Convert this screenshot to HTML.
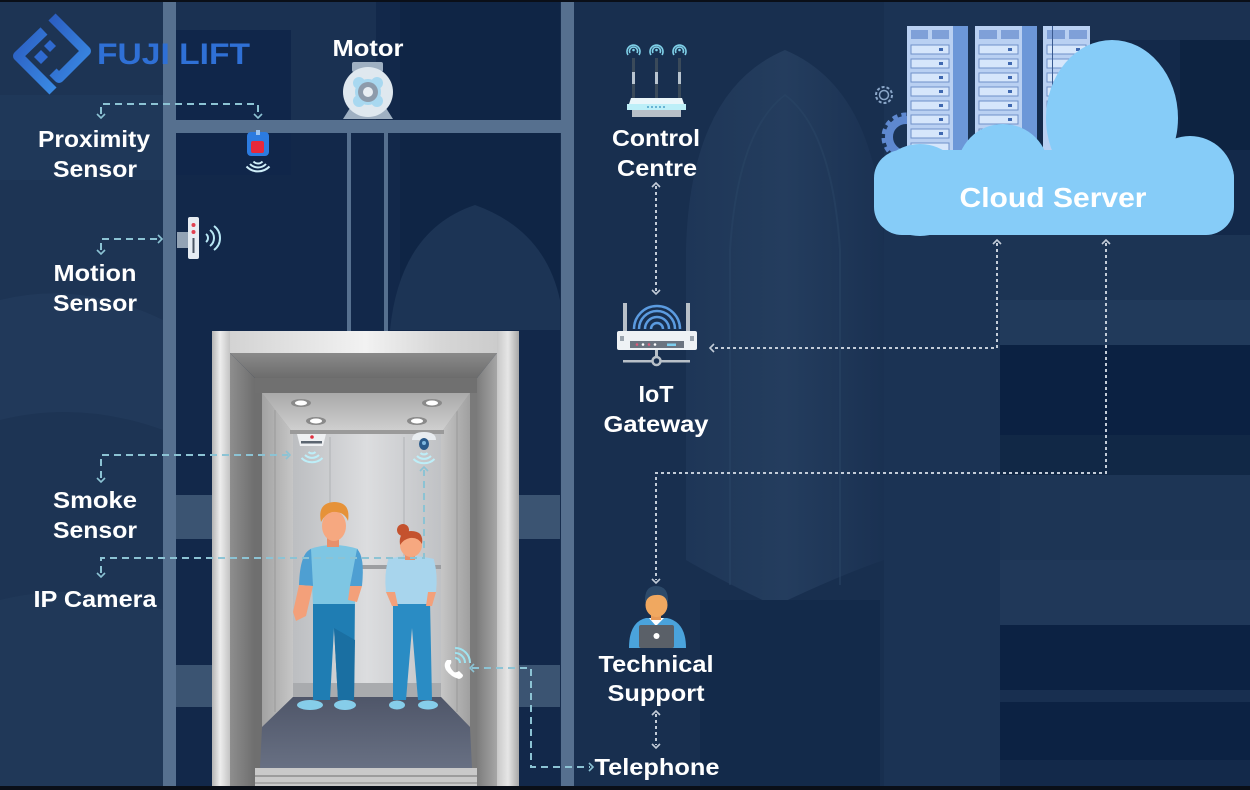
<!DOCTYPE html>
<html><head><meta charset="utf-8">
<style>
html,body{margin:0;padding:0;background:#172d4d;overflow:hidden}
svg{display:block}
.lb{font-family:"Liberation Sans",Arial,sans-serif;font-weight:700;fill:#ffffff;font-size:23px}
</style></head><body>
<svg width="1250" height="790" viewBox="0 0 1250 790" xmlns="http://www.w3.org/2000/svg">
<defs>
  <linearGradient id="gPostL" x1="0" x2="1" y1="0" y2="0">
    <stop offset="0" stop-color="#b4b4b4"/><stop offset="0.45" stop-color="#ededed"/><stop offset="1" stop-color="#c4c4c4"/>
  </linearGradient>
  <linearGradient id="gPostR" x1="0" x2="1" y1="0" y2="0">
    <stop offset="0" stop-color="#c8c8c8"/><stop offset="0.5" stop-color="#e6e6e6"/><stop offset="1" stop-color="#a8a8a8"/>
  </linearGradient>
  <linearGradient id="gTop" x1="0" x2="1" y1="0" y2="0">
    <stop offset="0" stop-color="#cfcfcf"/><stop offset="0.5" stop-color="#f2f2f2"/><stop offset="0.75" stop-color="#d6d6d6"/><stop offset="1" stop-color="#c8c8c8"/>
  </linearGradient>
  <linearGradient id="gBevL" x1="0" x2="1" y1="0" y2="0">
    <stop offset="0" stop-color="#8e8e8e"/><stop offset="1" stop-color="#6e6e6e"/>
  </linearGradient>
  <linearGradient id="gBevR" x1="0" x2="1" y1="0" y2="0">
    <stop offset="0" stop-color="#7c7c7c"/><stop offset="1" stop-color="#a6a6a6"/>
  </linearGradient>
  <linearGradient id="gBevT" x1="0" x2="0" y1="0" y2="1">
    <stop offset="0" stop-color="#8a8a8a"/><stop offset="1" stop-color="#6c6c6c"/>
  </linearGradient>
  <linearGradient id="gCeil" x1="0" x2="0" y1="0" y2="1">
    <stop offset="0" stop-color="#a9a9a9"/><stop offset="1" stop-color="#d2d2d2"/>
  </linearGradient>
  <linearGradient id="gBack" x1="0" x2="1" y1="0" y2="0">
    <stop offset="0" stop-color="#bcbec1"/><stop offset="0.5" stop-color="#dcdddf"/><stop offset="1" stop-color="#c0c2c5"/>
  </linearGradient>
  <linearGradient id="gWallL" x1="0" x2="1" y1="0" y2="0">
    <stop offset="0" stop-color="#a2a2a2"/><stop offset="1" stop-color="#c6c6c6"/>
  </linearGradient>
  <linearGradient id="gWallR" x1="0" x2="1" y1="0" y2="0">
    <stop offset="0" stop-color="#c6c6c6"/><stop offset="1" stop-color="#a0a0a0"/>
  </linearGradient>
  <linearGradient id="gFloor" x1="0" x2="0" y1="0" y2="1">
    <stop offset="0" stop-color="#4f5669"/><stop offset="1" stop-color="#687083"/>
  </linearGradient>
  <linearGradient id="gLogo" x1="0" x2="1" y1="0" y2="1">
    <stop offset="0" stop-color="#2b5ec2"/><stop offset="1" stop-color="#3a8ae4"/>
  </linearGradient>
  <linearGradient id="gDome" x1="0" x2="1" y1="0" y2="0">
    <stop offset="0" stop-color="#1e3657"/><stop offset="0.5" stop-color="#243d5e"/><stop offset="1" stop-color="#1a3152"/>
  </linearGradient>
</defs>

<!-- ============ BACKGROUND ============ -->
<rect x="0" y="0" width="1250" height="790" fill="#172d4d"/>
<rect x="0" y="0" width="163" height="790" fill="#1d3454"/>
<rect x="0" y="95" width="163" height="85" fill="#21395a" opacity="0.8"/>
<path d="M0 300 Q80 280 163 320 L163 430 Q80 400 0 420 Z" fill="#243c5c" opacity="0.7"/>
<path d="M0 600 Q80 580 163 610 L163 790 L0 790 Z" fill="#223a5a" opacity="0.7"/>
<rect x="176" y="0" width="384" height="790" fill="#12284a"/>
<rect x="176" y="0" width="200" height="120" fill="#1a3152"/>
<rect x="176" y="30" width="115" height="145" fill="#10264a"/>
<rect x="400" y="0" width="160" height="330" fill="#0f2545"/>
<path d="M390 330 Q400 230 475 205 Q545 230 560 300 L560 330 Z" fill="#1c3455"/>
<rect x="176" y="495" width="384" height="44" fill="#3b5472"/>
<rect x="176" y="665" width="384" height="42" fill="#3b5472"/>
<rect x="574" y="0" width="310" height="790" fill="#182f4f"/>
<path d="M686 560 L686 250 Q690 90 785 50 Q880 90 884 250 L884 560 Q840 575 775 606 Q720 580 686 560 Z" fill="url(#gDome)"/>
<path d="M730 585 L730 250 Q738 130 785 95 Q832 130 840 250 L840 585" fill="none" stroke="#2a4565" stroke-width="2" opacity="0.5"/>
<rect x="700" y="600" width="180" height="190" fill="#132a4a"/>
<rect x="884" y="0" width="116" height="790" fill="#1b3354"/>
<rect x="1000" y="0" width="250" height="790" fill="#13294a"/>
<rect x="1000" y="0" width="250" height="40" fill="#1b3151"/>
<rect x="1180" y="40" width="70" height="110" fill="#0d2341"/>
<rect x="1000" y="235" width="250" height="110" fill="#1c3454"/>
<rect x="1000" y="300" width="250" height="45" fill="#213a5b"/>
<rect x="1000" y="345" width="250" height="90" fill="#0b2142"/>
<rect x="1000" y="435" width="250" height="40" fill="#112846"/>
<rect x="1000" y="475" width="250" height="150" fill="#1d3555"/>
<rect x="1000" y="560" width="250" height="65" fill="#203859"/>
<rect x="1000" y="625" width="250" height="165" fill="#0c2243"/>
<rect x="1000" y="690" width="250" height="12" fill="#182f50"/>
<rect x="1000" y="760" width="250" height="30" fill="#13294a"/>

<!-- ============ SHAFT RAILS ============ -->
<rect x="163" y="0" width="13" height="790" fill="#56708f"/>
<rect x="561" y="0" width="13" height="790" fill="#56708f"/>
<rect x="176" y="120" width="385" height="13" fill="#56708f"/>
<rect x="347" y="133" width="4" height="200" fill="#56708f"/>
<rect x="384" y="133" width="4" height="200" fill="#56708f"/>

<!-- ============ LOGO ============ -->
<g fill="none" stroke="url(#gLogo)" stroke-width="10" stroke-linejoin="round">
  <polyline points="52,17 86,51 59,78 53,72"/>
  <polyline points="44,31 18,56 53,91"/>
</g>
<polygon points="41,50 48,57 41,64 34,57" fill="#2f6ad0"/>
<polygon points="50,40 56,46 50,52 44,46" fill="#2f6ad0"/>
<text x="97" y="64" font-family="Liberation Sans, Arial, sans-serif" font-weight="700" font-size="30" fill="#2f70d6" textLength="153" lengthAdjust="spacingAndGlyphs">FUJI LIFT</text>

<!-- ============ MOTOR ============ -->
<rect x="352" y="62" width="31" height="10" rx="2" fill="#9fb0c2"/>
<path d="M343 119 L350 108 L386 108 L393 119 Z" fill="#9fb0c2"/>
<circle cx="368" cy="92" r="25" fill="#dfe8ef"/>
<g fill="#a8d8f0">
  <circle cx="359" cy="83" r="6"/><circle cx="377" cy="83" r="6"/>
  <circle cx="359" cy="101" r="6"/><circle cx="377" cy="101" r="6"/>
  <circle cx="368" cy="92" r="13"/>
</g>
<circle cx="368" cy="92" r="10" fill="#8d9bab"/>
<circle cx="368" cy="92" r="5" fill="#e8eef3"/>

<!-- ============ PROXIMITY SENSOR ============ -->
<rect x="247" y="132" width="22" height="24" rx="4" fill="#2c7be0"/>
<rect x="256" y="130" width="4" height="5" fill="#9cc4f0"/>
<rect x="251" y="141" width="13" height="12" rx="2" fill="#e8283a"/>
<g fill="none" stroke="#cfeef8" stroke-width="2">
  <path d="M253.5 161.5 A6 6 0 0 0 262.5 161.5"/>
  <path d="M250 164 A11 11 0 0 0 266 164"/>
  <path d="M246.5 166.5 A16 16 0 0 0 269.5 166.5"/>
</g>

<!-- ============ MOTION SENSOR ============ -->
<path d="M177 232 L188 232 L188 248 L177 248 Z" fill="#93a3b5"/>
<rect x="188" y="217" width="11" height="42" rx="2" fill="#e6ecf2"/>
<circle cx="193.5" cy="225" r="2" fill="#e04050"/>
<circle cx="193.5" cy="232" r="2" fill="#e04050"/>
<rect x="192.5" y="238" width="2" height="15" fill="#4a5563"/>
<g fill="none" stroke="#b8e8f5" stroke-width="2">
  <path d="M206 234 A5 5 0 0 1 206 242"/>
  <path d="M210 230 A10 10 0 0 1 210 246"/>
  <path d="M214 226 A15 15 0 0 1 214 250"/>
</g>

<!-- ============ ELEVATOR ============ -->
<rect x="255" y="378" width="222" height="412" fill="#8f8f8f"/>
<rect x="212" y="331" width="307" height="22" fill="url(#gTop)"/>
<rect x="212" y="331" width="18" height="459" fill="url(#gPostL)"/>
<rect x="497" y="331" width="22" height="459" fill="url(#gPostR)"/>
<polygon points="230,353 497,353 477,378 255,378" fill="url(#gBevT)"/>
<polygon points="230,353 255,378 255,790 230,790" fill="url(#gBevL)"/>
<polygon points="497,353 477,378 477,790 497,790" fill="url(#gBevR)"/>
<rect x="255" y="378" width="222" height="15" fill="#707070"/>
<rect x="255" y="393" width="7" height="375" fill="#6f6f6f"/>
<rect x="470" y="393" width="7" height="375" fill="#7a7a7a"/>
<polygon points="262,393 293,433 293,697 262,727" fill="url(#gWallL)"/>
<polygon points="470,393 441,433 441,697 470,727" fill="url(#gWallR)"/>
<line x1="275" y1="410" x2="275" y2="712" stroke="#9a9a9a" stroke-width="1"/>
<line x1="457" y1="410" x2="457" y2="712" stroke="#9a9a9a" stroke-width="1"/>
<rect x="293" y="433" width="148" height="264" fill="url(#gBack)"/>
<line x1="330" y1="437" x2="330" y2="685" stroke="#b0b2b5" stroke-width="1"/>
<line x1="404" y1="437" x2="404" y2="685" stroke="#b0b2b5" stroke-width="1"/>
<rect x="293" y="683" width="148" height="14" fill="#a9abae"/>
<rect x="305" y="565" width="136" height="4" fill="#9c9ea1"/>
<polygon points="262,393 470,393 441,433 293,433" fill="url(#gCeil)"/>
<rect x="290" y="430" width="154" height="4" fill="#9a9a9a"/>
<g>
  <ellipse cx="301" cy="403" rx="10" ry="4" fill="#8a8a8a"/><ellipse cx="301" cy="403" rx="6" ry="2.5" fill="#ffffff"/>
  <ellipse cx="316" cy="421" rx="10" ry="4" fill="#8a8a8a"/><ellipse cx="316" cy="421" rx="6" ry="2.5" fill="#ffffff"/>
  <ellipse cx="432" cy="403" rx="10" ry="4" fill="#8a8a8a"/><ellipse cx="432" cy="403" rx="6" ry="2.5" fill="#ffffff"/>
  <ellipse cx="417" cy="421" rx="10" ry="4" fill="#8a8a8a"/><ellipse cx="417" cy="421" rx="6" ry="2.5" fill="#ffffff"/>
</g>
<polygon points="293,697 441,697 470,727 472,768 260,768 262,727" fill="url(#gFloor)"/>
<rect x="255" y="768" width="222" height="22" fill="#c9c9c9"/>
<rect x="255" y="775" width="222" height="2" fill="#9c9c9c"/>
<rect x="255" y="782" width="222" height="2" fill="#a8a8a8"/>

<!-- smoke detector -->
<path d="M297 434 L326 434 L323 446 L300 446 Z" fill="#eef0f2"/>
<circle cx="312" cy="437" r="1.8" fill="#e03040"/>
<rect x="301" y="441" width="21" height="2.5" fill="#5b6570"/>
<g fill="none" stroke="#bdeef8" stroke-width="2">
  <path d="M308.5 452 A5 5 0 0 0 315.5 452"/>
  <path d="M305 455 A10 10 0 0 0 319 455"/>
  <path d="M301.5 458 A15 15 0 0 0 322.5 458"/>
</g>
<!-- camera -->
<path d="M412 440 Q412 432 424 432 Q436 432 436 440 Z" fill="#e8ecf0"/>
<ellipse cx="424" cy="444" rx="5" ry="6" fill="#2a5a8a"/>
<circle cx="424" cy="443" r="2" fill="#7fb8e0"/>
<g fill="none" stroke="#bdeef8" stroke-width="2">
  <path d="M420.5 453 A5 5 0 0 0 427.5 453"/>
  <path d="M417 456 A10 10 0 0 0 431 456"/>
  <path d="M413.5 459 A15 15 0 0 0 434.5 459"/>
</g>

<!-- MAN -->
<g>
  <path d="M313 598 L355 598 L354 700 L338 700 L334 628 L330 700 L313 700 Z" fill="#1f7db3"/>
  <path d="M334 628 L338 700 L354 700 L355 640 Z" fill="#1a6fa2"/>
  <ellipse cx="310" cy="705" rx="13" ry="5" fill="#86cde9"/>
  <ellipse cx="345" cy="705" rx="11" ry="5" fill="#86cde9"/>
  <path d="M310 549 Q333 541 358 549 L355 604 L313 604 Z" fill="#7ec6e3"/>
  <path d="M311 549 Q300 553 299 585 L313 586 Z" fill="#4e9fd2"/>
  <path d="M357 549 Q365 556 362 586 L350 586 Z" fill="#4e9fd2"/>
  <path d="M299 585 L313 586 L306 616 L296 621 L293 612 Z" fill="#f3a07a"/>
  <path d="M350 586 L362 586 L357 602 L348 600 Z" fill="#f3a07a"/>
  <rect x="327" y="535" width="12" height="12" fill="#e8906c"/>
  <ellipse cx="334" cy="526" rx="12" ry="15" fill="#f6a880"/>
  <path d="M321 522 Q317 503 334 502 Q351 502 348 521 Q344 511 332 512 Q325 514 321 522 Z" fill="#e69238"/>
</g>
<!-- WOMAN -->
<g>
  <path d="M393 600 L430 600 L432 700 L418 700 L412 628 L406 700 L393 700 Z" fill="#2a8cc4"/>
  <ellipse cx="397" cy="705" rx="8" ry="4.5" fill="#86cde9"/>
  <ellipse cx="428" cy="705" rx="10" ry="4.5" fill="#86cde9"/>
  <path d="M388 559 Q410 553 434 559 L430 604 L393 604 Z" fill="#a8d5ed"/>
  <path d="M388 560 Q384 575 386 592 L395 592 Z" fill="#a8d5ed"/>
  <path d="M434 560 Q438 575 436 592 L428 592 Z" fill="#a8d5ed"/>
  <path d="M386 592 L395 592 L398 606 L392 606 Z" fill="#f3a07a"/>
  <path d="M428 592 L436 592 L432 606 L426 606 Z" fill="#f3a07a"/>
  <rect x="405" y="552" width="10" height="8" fill="#e8906c"/>
  <ellipse cx="411" cy="545" rx="11" ry="12" fill="#f6a880"/>
  <path d="M400 545 Q398 531 411 531 Q424 531 422 544 Q418 537 410 538 Q404 539 400 545 Z" fill="#c4522e"/>
  <circle cx="403" cy="530" r="6" fill="#c4522e"/>
</g>

<!-- telephone -->
<path d="M447 660 Q443 664 446 670 Q451 677 459 679 Q463 678 463 675 L459 671 Q456 673 454 672 Q450 668 450 665 Q452 663 451 660 Z" fill="#ffffff"/>
<g fill="none" stroke="#9fe3f0" stroke-width="2">
  <path d="M455 658 A5 5 0 0 1 460 663"/>
  <path d="M455 653 A10 10 0 0 1 465 663"/>
  <path d="M455 648 A15 15 0 0 1 470 663"/>
</g>

<!-- ============ CONTROL CENTRE ROUTER ============ -->
<g fill="none" stroke="#7fd0e8" stroke-width="1.6">
  <path d="M630 53 A4 4 0 1 1 637 53"/><path d="M628 55 A6.5 6.5 0 1 1 639 55"/>
  <path d="M653 53 A4 4 0 1 1 660 53"/><path d="M651 55 A6.5 6.5 0 1 1 662 55"/>
  <path d="M676 53 A4 4 0 1 1 683 53"/><path d="M674 55 A6.5 6.5 0 1 1 685 55"/>
</g>
<circle cx="633.5" cy="50" r="1.3" fill="#7fd0e8"/><circle cx="656.5" cy="50" r="1.3" fill="#7fd0e8"/><circle cx="679.5" cy="50" r="1.3" fill="#7fd0e8"/>
<g fill="#3a4a5a">
  <rect x="632" y="58" width="3" height="40"/><rect x="655" y="58" width="3" height="40"/><rect x="678" y="58" width="3" height="40"/>
</g>
<g fill="#b8c4cf">
  <rect x="632" y="72" width="3" height="12"/><rect x="655" y="72" width="3" height="12"/><rect x="678" y="72" width="3" height="12"/>
</g>
<path d="M631 98 L682 98 L686 110 L627 110 Z" fill="#eaf6fa"/>
<rect x="627" y="104" width="59" height="6" fill="#bdeff8"/>
<rect x="632" y="110" width="49" height="7" fill="#b8c0c8"/>
<g fill="#4aa0c8"><circle cx="648" cy="107" r="1"/><circle cx="652" cy="107" r="1"/><circle cx="656" cy="107" r="1"/><circle cx="660" cy="107" r="1"/><circle cx="664" cy="107" r="1"/></g>

<!-- ============ IOT GATEWAY ============ -->
<rect x="623" y="303" width="4" height="30" fill="#b8c0c8"/>
<rect x="686" y="303" width="4" height="30" fill="#b8c0c8"/>
<g fill="none" stroke="#5b9be0" stroke-width="2.5">
  <path d="M651 329 A6 6 0 0 1 663 329"/>
  <path d="M645 329 A12 12 0 0 1 669 329"/>
  <path d="M639 329 A18 18 0 0 1 675 329"/>
  <path d="M634 329 A23 23 0 0 1 680 329"/>
</g>
<rect x="617" y="331" width="80" height="19" rx="2" fill="#eef2f5"/>
<rect x="620" y="336" width="4" height="5" fill="#9aa4ae"/>
<rect x="690" y="336" width="4" height="5" fill="#9aa4ae"/>
<rect x="630" y="341" width="54" height="7" fill="#6b7480"/>
<g><circle cx="637" cy="344.5" r="1.3" fill="#e05a7a"/><circle cx="643" cy="344.5" r="1.3" fill="#ffffff"/><circle cx="649" cy="344.5" r="1.3" fill="#e05a7a"/><circle cx="655" cy="344.5" r="1.3" fill="#ffffff"/><rect x="667" y="343.5" width="9" height="2.5" fill="#7fd0f0"/></g>
<rect x="655" y="350" width="3" height="7" fill="#b8c0c8"/>
<circle cx="656.5" cy="361" r="4" fill="none" stroke="#b8c0c8" stroke-width="2.5"/>
<rect x="623" y="360" width="29" height="2.5" fill="#b8c0c8"/>
<rect x="661" y="360" width="29" height="2.5" fill="#b8c0c8"/>

<!-- ============ TECH SUPPORT ============ -->
<path d="M629 648 Q629 622 646 618 L667 618 Q686 622 686 648 Z" fill="#4aa3dc"/>
<path d="M649 618 L656 626 L664 618 Z" fill="#ffffff"/>
<rect x="651" y="612" width="10" height="8" fill="#e89a58"/>
<ellipse cx="656.5" cy="605" rx="11" ry="12" fill="#f0a860"/>
<path d="M645 603 Q644 586 656 586 Q669 586 668 603 Q665 594 656 595 Q648 595 645 603 Z" fill="#2d4a6a"/>
<rect x="639" y="625" width="35" height="23" rx="2" fill="#5a6068"/>
<circle cx="656.5" cy="636" r="3" fill="#ffffff"/>

<!-- ============ CLOUD SERVER ============ -->
<circle cx="884" cy="95" r="8" fill="none" stroke="#8aa6c8" stroke-width="2" stroke-dasharray="3 2"/>
<circle cx="884" cy="95" r="4.5" fill="none" stroke="#8aa6c8" stroke-width="1.5"/>
<circle cx="906" cy="137" r="22" fill="none" stroke="#5e88cf" stroke-width="5" stroke-dasharray="5 4"/>
<circle cx="906" cy="137" r="17" fill="none" stroke="#5e88cf" stroke-width="8"/>
<g>
  <rect x="953" y="26" width="15" height="140" fill="#6c97d8"/>
  <rect x="1022" y="26" width="15" height="140" fill="#6c97d8"/>
  <rect x="907" y="26" width="46" height="140" fill="#b9d0f2"/>
  <rect x="975" y="26" width="47" height="140" fill="#b9d0f2"/>
  <rect x="1043" y="26" width="47" height="140" fill="#b9d0f2"/>
  <g fill="#7fa0d8">
    <rect x="911" y="30" width="17" height="9"/><rect x="932" y="30" width="17" height="9"/>
    <rect x="979" y="30" width="18" height="9"/><rect x="1001" y="30" width="18" height="9"/>
    <rect x="1047" y="30" width="18" height="9"/><rect x="1069" y="30" width="18" height="9"/>
  </g>
  <g fill="#d6e6fb" stroke="#6f90c8" stroke-width="1">
    <rect x="911" y="45" width="38" height="9"/><rect x="911" y="59" width="38" height="9"/><rect x="911" y="73" width="38" height="9"/><rect x="911" y="87" width="38" height="9"/><rect x="911" y="101" width="38" height="9"/><rect x="911" y="115" width="38" height="9"/><rect x="911" y="129" width="38" height="9"/><rect x="911" y="143" width="38" height="9"/>
    <rect x="979" y="45" width="39" height="9"/><rect x="979" y="59" width="39" height="9"/><rect x="979" y="73" width="39" height="9"/><rect x="979" y="87" width="39" height="9"/><rect x="979" y="101" width="39" height="9"/><rect x="979" y="115" width="39" height="9"/><rect x="979" y="129" width="39" height="9"/>
    <rect x="1047" y="45" width="39" height="9"/><rect x="1047" y="59" width="39" height="9"/><rect x="1047" y="73" width="39" height="9"/><rect x="1047" y="87" width="39" height="9"/><rect x="1047" y="101" width="39" height="9"/><rect x="1047" y="115" width="39" height="9"/>
  </g>
  <g fill="#3f68b0">
    <rect x="939" y="48" width="4" height="3"/><rect x="939" y="62" width="4" height="3"/><rect x="939" y="76" width="4" height="3"/><rect x="939" y="90" width="4" height="3"/><rect x="939" y="104" width="4" height="3"/><rect x="939" y="118" width="4" height="3"/><rect x="939" y="132" width="4" height="3"/>
    <rect x="1008" y="48" width="4" height="3"/><rect x="1008" y="62" width="4" height="3"/><rect x="1008" y="76" width="4" height="3"/><rect x="1008" y="90" width="4" height="3"/><rect x="1008" y="104" width="4" height="3"/><rect x="1008" y="118" width="4" height="3"/>
    <rect x="1076" y="48" width="4" height="3"/><rect x="1076" y="62" width="4" height="3"/><rect x="1076" y="76" width="4" height="3"/><rect x="1076" y="90" width="4" height="3"/>
  </g>
  <rect x="1052" y="26" width="1" height="100" fill="#3a5a90"/>
</g>
<g fill="#86ccf8">
  <circle cx="920" cy="190" r="46"/>
  <circle cx="1003" cy="170" r="46"/>
  <ellipse cx="1112" cy="118" rx="66" ry="78"/>
  <circle cx="1190" cy="180" r="44"/>
  <rect x="874" y="150" width="360" height="85" rx="28"/>
</g>
<text class="lb" x="1053" y="207" text-anchor="middle" style="font-size:28px" textLength="187" lengthAdjust="spacingAndGlyphs">Cloud Server</text>

<!-- ============ CONNECTORS (left, dashed) ============ -->
<g fill="none" stroke="#8cc3d4" stroke-width="2" stroke-dasharray="7 5">
  <path d="M101 114 L101 104 L258 104 L258 114"/>
  <path d="M101 250 L101 239 L160 239"/>
  <path d="M101 478 L101 455 L288 455"/>
  <path d="M101 573 L101 558 L424 558 L424 470"/>
  <path d="M472 668 L531 668 L531 767 L590 767"/>
</g>
<g fill="none" stroke="#8cc3d4" stroke-width="1.6">
  <polyline points="97,114 101,118 105,114"/>
  <polyline points="254,114 258,118 262,114"/>
  <polyline points="97,250 101,254 105,250"/>
  <polyline points="158,235 162,239 158,243"/>
  <polyline points="97,478 101,482 105,478"/>
  <polyline points="286,451 290,455 286,459"/>
  <polyline points="97,573 101,577 105,573"/>
  <polyline points="420,471 424,467 428,471"/>
  <polyline points="474,664 470,668 474,672"/>
  <polyline points="589,763 593,767 589,771"/>
</g>

<!-- ============ CONNECTORS (right, dotted) ============ -->
<g fill="none" stroke="#c3ccd8" stroke-width="2" stroke-dasharray="3 3">
  <path d="M656 186 L656 291"/>
  <path d="M997 243 L997 348 L713 348"/>
  <path d="M1106 243 L1106 473 L656 473 L656 580"/>
  <path d="M656 714 L656 745"/>
</g>
<g fill="none" stroke="#c3ccd8" stroke-width="1.6">
  <polyline points="652,187 656,183 660,187"/>
  <polyline points="652,290 656,294 660,290"/>
  <polyline points="993,244 997,240 1001,244"/>
  <polyline points="1102,244 1106,240 1110,244"/>
  <polyline points="714,344 710,348 714,352"/>
  <polyline points="652,579 656,583 660,579"/>
  <polyline points="652,715 656,711 660,715"/>
  <polyline points="652,744 656,748 660,744"/>
</g>

<!-- ============ LABELS ============ -->
<text class="lb" x="94" y="147" text-anchor="middle" textLength="112" lengthAdjust="spacingAndGlyphs">Proximity</text>
<text class="lb" x="95" y="177" text-anchor="middle" textLength="84" lengthAdjust="spacingAndGlyphs">Sensor</text>
<text class="lb" x="95" y="281" text-anchor="middle" textLength="83" lengthAdjust="spacingAndGlyphs">Motion</text>
<text class="lb" x="95" y="311" text-anchor="middle" textLength="84" lengthAdjust="spacingAndGlyphs">Sensor</text>
<text class="lb" x="368" y="56" text-anchor="middle" textLength="71" lengthAdjust="spacingAndGlyphs">Motor</text>
<text class="lb" x="95" y="508" text-anchor="middle" textLength="84" lengthAdjust="spacingAndGlyphs">Smoke</text>
<text class="lb" x="95" y="538" text-anchor="middle" textLength="84" lengthAdjust="spacingAndGlyphs">Sensor</text>
<text class="lb" x="95" y="607" text-anchor="middle" textLength="123" lengthAdjust="spacingAndGlyphs">IP Camera</text>
<text class="lb" x="656" y="146" text-anchor="middle" textLength="88" lengthAdjust="spacingAndGlyphs">Control</text>
<text class="lb" x="657" y="176" text-anchor="middle" textLength="80" lengthAdjust="spacingAndGlyphs">Centre</text>
<text class="lb" x="656" y="402" text-anchor="middle" textLength="35" lengthAdjust="spacingAndGlyphs">IoT</text>
<text class="lb" x="656" y="432" text-anchor="middle" textLength="105" lengthAdjust="spacingAndGlyphs">Gateway</text>
<text class="lb" x="656" y="672" text-anchor="middle" textLength="115" lengthAdjust="spacingAndGlyphs">Technical</text>
<text class="lb" x="656" y="701" text-anchor="middle" textLength="97" lengthAdjust="spacingAndGlyphs">Support</text>
<text class="lb" x="657" y="775" text-anchor="middle" textLength="125" lengthAdjust="spacingAndGlyphs">Telephone</text>

<rect x="0" y="0" width="1250" height="2" fill="#0a0f18"/>
<rect x="0" y="786" width="1250" height="4" fill="#0a0f18"/>
</svg>
</body></html>
